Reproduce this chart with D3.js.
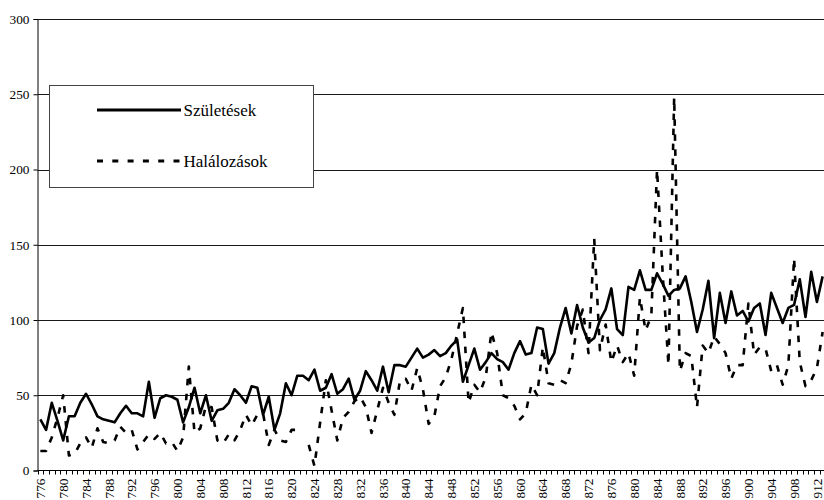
<!DOCTYPE html>
<html>
<head>
<meta charset="utf-8">
<script src="https://cdn.jsdelivr.net/npm/d3@7"></script>
<style>
  html, body { margin: 0; padding: 0; background: #fff; }
  svg { display: block; }
  text { font-family: "Liberation Serif", "Times New Roman", serif; fill: #000; }
</style>
</head>
<body>
<div id="chart"></div>
<script>
// ---------------- DATA ----------------
const years = [
  1776,1777,1778,1779,1780,1781,1782,1783,1784,1785,1786,1787,1788,1789,1790,1791,1792,1793,1794,1795,
  1796,1797,1798,1799,1800,1801,1802,1803,1804,1805,1806,1807,1808,1809,1810,1811,1812,1813,1814,1815,
  1816,1817,1818,1819,1820,1821,1822,1823,1824,1825,1826,1827,1828,1829,1830,1831,1832,1833,1834,1835,
  1836,1837,1838,1839,1840,1841,1842,1843,1844,1845,1846,1847,1848,1849,1850,1851,1852,1853,1854,1855,
  1856,1857,1858,1859,1860,1861,1862,1863,1864,1865,1866,1867,1868,1869,1870,1871,1872,1873,1874,1875,
  1876,1877,1878,1879,1880,1881,1882,1883,1884,1885,1886,1887,1888,1889,1890,1891,1892,1893,1894,1895,
  1896,1897,1898,1899,1900,1901,1902,1903,1904,1905,1906,1907,1908,1909,1910,1911,1912,1913
];

const births = [
  34,27,45,33,20,36,36,45,51,44,36,34,33,32,38,43,38,38,36,59,
  35,48,50,49,47,32,42,55,38,50,33,40,41,45,54,50,45,56,55,37,
  49,27,38,58,50,63,63,60,67,53,55,64,51,54,61,47,53,66,60,53,
  69,52,70,70,69,75,81,75,77,80,76,78,83,87,59,70,81,67,72,78,
  74,72,67,78,86,77,78,95,94,71,78,95,108,91,110,95,85,88,100,107,
  121,94,90,122,120,133,120,120,131,124,116,120,121,129,112,92,107,126,88,118,
  98,119,103,106,99,108,111,90,118,108,98,108,110,127,102,132,112,129
];

const deaths = [
  13,13,22,35,50,10,11,18,22,15,28,19,18,20,29,25,27,14,19,24,
  21,25,18,19,13,22,69,25,28,43,42,20,18,24,20,27,37,30,37,38,
  17,27,20,19,27,27,null,17,3,32,60,40,20,35,39,46,49,42,25,40,
  55,45,37,60,61,53,68,54,31,36,56,62,74,91,108,45,57,52,62,92,
  78,50,48,43,34,38,57,50,82,58,57,60,58,71,96,107,78,154,80,97,
  72,83,72,78,63,115,93,103,200,130,70,248,66,78,76,42,83,78,89,84,
  78,61,70,70,111,77,82,81,66,70,57,70,141,72,56,60,68,92
];

const yTicks = [0, 50, 100, 150, 200, 250, 300];
// category label positions and the (cropped, three-digit) labels as shown in the reference
const xTickYears = [1776,1780,1784,1788,1792,1796,1800,1804,1808,1812,1816,1820,1824,1828,1832,
  1836,1840,1844,1848,1852,1856,1860,1864,1868,1872,1876,1880,1884,1888,1892,1896,1900,1904,1908,1912];
const xTickLabels = ["776","780","784","788","792","796","800","804","808","812","816","820","824","828","832",
  "836","840","844","848","852","856","860","864","868","872","876","880","884","888","892","896","900","904","908","912"];
const seriesNames = ["Születések", "Halálozások"];

// ---------------- LAYOUT ----------------
const W = 824, H = 500;
const plot = { left: 37.5, top: 19, bottom: 470.5, right: 37.5 + 138 * 5.71 };
const FONT = "'Liberation Serif', 'Times New Roman', serif";

const svg = d3.select("#chart").append("svg")
  .attr("width", W).attr("height", H)
  .attr("viewBox", `0 0 ${W} ${H}`);

const x = d3.scaleBand().domain(years).range([plot.left, plot.right]).paddingInner(0).paddingOuter(0);
const bw = x.bandwidth();
const cx = d => x(d) + bw / 2;
const y = d3.scaleLinear().domain([0, 300]).range([plot.bottom, plot.top]);

// gridlines
svg.append("g").selectAll("line")
  .data(yTicks.filter(v => v > 0))
  .join("line")
  .attr("x1", plot.left).attr("x2", plot.right)
  .attr("y1", d => Math.round(y(d)) + 0.5).attr("y2", d => Math.round(y(d)) + 0.5)
  .attr("stroke", "#1a1a1a").attr("stroke-width", 1);

// y axis
const yAxis = svg.append("g")
  .attr("transform", `translate(${plot.left},0)`)
  .call(d3.axisLeft(y).tickValues(yTicks).tickSize(4).tickPadding(4).tickFormat(d3.format("d")));
yAxis.attr("font-family", null);
yAxis.select(".domain").attr("stroke", "#000");
yAxis.selectAll(".tick line").attr("stroke", "#000");
yAxis.selectAll("text")
  .style("font-family", FONT).style("font-size", "13.3px").attr("fill", "#000");

// x axis line
svg.append("line")
  .attr("x1", plot.left).attr("x2", plot.right)
  .attr("y1", plot.bottom).attr("y2", plot.bottom)
  .attr("stroke", "#000").attr("stroke-width", 1);

// x ticks at category boundaries
const boundaries = years.map(d => x(d)).concat([x(years[years.length - 1]) + bw]);
svg.append("g").selectAll("line")
  .data(boundaries)
  .join("line")
  .attr("x1", d => Math.round(d) + 0.5).attr("x2", d => Math.round(d) + 0.5)
  .attr("y1", plot.bottom).attr("y2", plot.bottom + 4)
  .attr("stroke", "#000").attr("stroke-width", 1);

// x labels (rotated)
svg.append("g").selectAll("text")
  .data(xTickYears)
  .join("text")
  .attr("transform", d => `translate(${cx(d)},${plot.bottom + 8}) rotate(-90)`)
  .attr("text-anchor", "end")
  .attr("dy", "0.35em")
  .style("font-family", FONT)
  .style("font-size", "13.3px")
  .text((d, i) => xTickLabels[i]);

// lines
const birthLine = d3.line()
  .x((d, i) => cx(years[i]))
  .y(d => y(d));
const deathLine = d3.line()
  .defined(d => d !== null)
  .x((d, i) => cx(years[i]))
  .y(d => y(d));

svg.append("path")
  .datum(deaths)
  .attr("d", deathLine)
  .attr("fill", "none")
  .attr("stroke", "#000")
  .attr("stroke-width", 2.6)
  .attr("stroke-dasharray", "6.5,8.5")
  .attr("stroke-linejoin", "round");

svg.append("path")
  .datum(births)
  .attr("d", birthLine)
  .attr("fill", "none")
  .attr("stroke", "#000")
  .attr("stroke-width", 2.6)
  .attr("stroke-linejoin", "round");

// legend
const lg = svg.append("g");
lg.append("rect")
  .attr("x", 49.5).attr("y", 85.5).attr("width", 264).attr("height", 102)
  .attr("fill", "#fff").attr("stroke", "#444").attr("stroke-width", 1);

const legendRows = [
  { name: seriesNames[0], ly: 110, dash: null },
  { name: seriesNames[1], ly: 161, dash: "6,9.3" }
];
legendRows.forEach(r => {
  lg.append("line")
    .attr("x1", 97).attr("x2", 181).attr("y1", r.ly).attr("y2", r.ly)
    .attr("stroke", "#000").attr("stroke-width", 2.8)
    .attr("stroke-dasharray", r.dash);
  lg.append("text")
    .attr("x", 183.5).attr("y", r.ly + 6)
    .style("font-family", FONT)
    .style("font-size", "17px")
    .text(r.name);
});
</script>
</body>
</html>
